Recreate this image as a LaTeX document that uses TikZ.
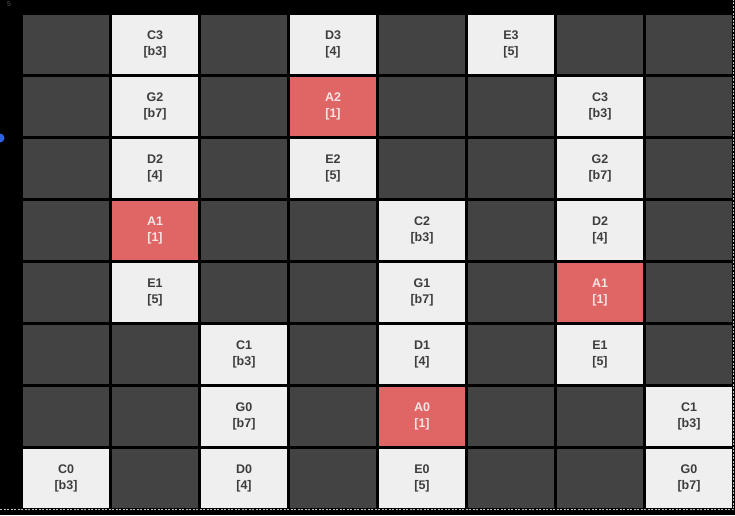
\documentclass[tikz,border=0pt]{standalone}
\usepackage{fontspec}
\setmainfont{Liberation Sans}
\definecolor{bgblack}{HTML}{000000}
\definecolor{cdark}{HTML}{434343}
\definecolor{clight}{HTML}{EFEFEF}
\definecolor{cred}{HTML}{E06666}
\definecolor{tdark}{HTML}{3D3D3D}
\definecolor{tred}{HTML}{F6E3E3}
\definecolor{dotblue}{HTML}{2B63E0}
\tikzset{
  cell/.style={rectangle, inner sep=0pt, minimum width=86pt, minimum height=59pt, align=center,
    font=\fontsize{12.5}{16}\selectfont\bfseries},
  darkcell/.style={cell, fill=cdark},
  lightcell/.style={cell, fill=clight, text=tdark},
  redcell/.style={cell, fill=cred, text=tred},
  edgedash/.style={draw=white!75!black, dash pattern=on 2pt off 1.5pt, line width=0.6pt}
}
\begin{document}
\begin{tikzpicture}[x=1pt,y=1pt]
\fill[bgblack] (0,0) rectangle (735,-515);
\useasboundingbox (0,0) rectangle (735,-515);
\def\cellat#1#2#3#4#5{%
  \node[#3] (c#1#2) at ({23+89*#2+43},{-(15+62*#1+29.5)}) {#4\\{[#5]}};}
\def\blank#1#2{%
  \node[darkcell] (c#1#2) at ({23+89*#2+43},{-(15+62*#1+29.5)}) {};}
% row 0
\blank{0}{0}
\cellat{0}{1}{lightcell}{C3}{b3}
\blank{0}{2}
\cellat{0}{3}{lightcell}{D3}{4}
\blank{0}{4}
\cellat{0}{5}{lightcell}{E3}{5}
\blank{0}{6}
\blank{0}{7}
% row 1
\blank{1}{0}
\cellat{1}{1}{lightcell}{G2}{b7}
\blank{1}{2}
\cellat{1}{3}{redcell}{A2}{1}
\blank{1}{4}
\blank{1}{5}
\cellat{1}{6}{lightcell}{C3}{b3}
\blank{1}{7}
% row 2
\blank{2}{0}
\cellat{2}{1}{lightcell}{D2}{4}
\blank{2}{2}
\cellat{2}{3}{lightcell}{E2}{5}
\blank{2}{4}
\blank{2}{5}
\cellat{2}{6}{lightcell}{G2}{b7}
\blank{2}{7}
% row 3
\blank{3}{0}
\cellat{3}{1}{redcell}{A1}{1}
\blank{3}{2}
\blank{3}{3}
\cellat{3}{4}{lightcell}{C2}{b3}
\blank{3}{5}
\cellat{3}{6}{lightcell}{D2}{4}
\blank{3}{7}
% row 4
\blank{4}{0}
\cellat{4}{1}{lightcell}{E1}{5}
\blank{4}{2}
\blank{4}{3}
\cellat{4}{4}{lightcell}{G1}{b7}
\blank{4}{5}
\cellat{4}{6}{redcell}{A1}{1}
\blank{4}{7}
% row 5
\blank{5}{0}
\blank{5}{1}
\cellat{5}{2}{lightcell}{C1}{b3}
\blank{5}{3}
\cellat{5}{4}{lightcell}{D1}{4}
\blank{5}{5}
\cellat{5}{6}{lightcell}{E1}{5}
\blank{5}{7}
% row 6
\blank{6}{0}
\blank{6}{1}
\cellat{6}{2}{lightcell}{G0}{b7}
\blank{6}{3}
\cellat{6}{4}{redcell}{A0}{1}
\blank{6}{5}
\blank{6}{6}
\cellat{6}{7}{lightcell}{C1}{b3}
% row 7
\cellat{7}{0}{lightcell}{C0}{b3}
\blank{7}{1}
\cellat{7}{2}{lightcell}{D0}{4}
\blank{7}{3}
\cellat{7}{4}{lightcell}{E0}{5}
\blank{7}{5}
\blank{7}{6}
\cellat{7}{7}{lightcell}{G0}{b7}
% screen artefacts
\node[text=white!35!black, font=\fontsize{7}{8}\selectfont, inner sep=0pt] (five) at (9,-4) {5};
\fill[dotblue] (0,-138) circle (4.5);
\coordinate (bl) at (0,-509.5);
\coordinate (br) at (733.5,-509.5);
\coordinate (tr) at (733.5,0);
\draw[edgedash] (bl) -- (br) -- (tr);
\end{tikzpicture}
\end{document}
